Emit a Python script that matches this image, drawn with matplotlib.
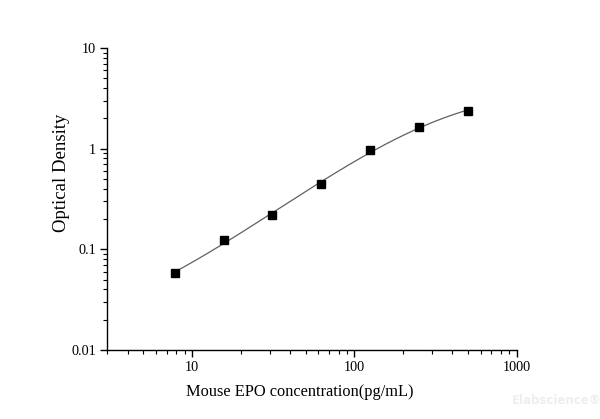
import numpy as np
import matplotlib
matplotlib.use("Agg")
import matplotlib.pyplot as plt
from matplotlib.ticker import LogLocator, FixedLocator, FixedFormatter, NullFormatter

plt.rcParams['font.family'] = ['Liberation Serif', 'DejaVu Serif']

conc = [7.8125, 15.625, 31.25, 62.5, 125, 250, 500]
od = [0.058, 0.124, 0.220, 0.445, 0.965, 1.63, 2.39]
x_ticks = [10, 100, 1000]
x_tick_labels = ["10", "100", "1000"]
y_ticks = [0.01, 0.1, 1, 10]
y_tick_labels = ["0.01", "0.1", "1", "10"]

# four-parameter logistic fit of the data (simple LM in numpy)
x = np.array(conc, dtype=float)
y = np.array(od, dtype=float)

def f4(p, xx):
    A, B, C, D = p
    return D + (A - D) / (1.0 + (xx / C) ** B)

p = np.array([0.02, 1.1, 150.0, 3.5])
lam = 1e-3
def resid(p):
    return (np.log(f4(p, x)) - np.log(y))
for _ in range(500):
    r = resid(p)
    J = np.zeros((len(x), 4))
    for k in range(4):
        dp = np.zeros(4); dp[k] = 1e-6 * max(abs(p[k]), 1e-3)
        J[:, k] = (resid(p + dp) - r) / dp[k]
    H = J.T @ J
    g = J.T @ r
    step = np.linalg.solve(H + lam * np.diag(np.diag(H) + 1e-12), -g)
    pn = p + step
    ok = pn[2] > 0 and pn[3] > 0 and np.all(f4(pn, x) > 0)
    if ok and np.sum(resid(pn) ** 2) < np.sum(r ** 2):
        p = pn; lam *= 0.5
    else:
        lam *= 5
        if lam > 1e8:
            break

xc = np.logspace(np.log10(conc[0]), np.log10(conc[-1]), 300)
yc = f4(p, xc)

fig = plt.figure(figsize=(6.0, 4.19), dpi=100)
ax = fig.add_axes([0.179, 0.165, 0.682, 0.720])
ax.set_xscale('log')
ax.set_yscale('log')
ax.plot(xc, yc, color='#606060', lw=0.9, zorder=2)
ax.plot(conc, od, 's', color='black', markersize=5.2, zorder=3)

ax.set_xlim(3, 1000)
ax.set_ylim(0.01, 10)
ax.spines['top'].set_visible(False)
ax.spines['right'].set_visible(False)
ax.xaxis.set_major_locator(FixedLocator(x_ticks))
ax.xaxis.set_major_formatter(FixedFormatter(x_tick_labels))
ax.yaxis.set_major_locator(FixedLocator(y_ticks))
ax.yaxis.set_major_formatter(FixedFormatter(y_tick_labels))
ax.xaxis.set_minor_locator(LogLocator(base=10, subs=np.arange(2, 10), numticks=20))
ax.yaxis.set_minor_locator(LogLocator(base=10, subs=np.arange(2, 10), numticks=20))
ax.xaxis.set_minor_formatter(NullFormatter())
ax.yaxis.set_minor_formatter(NullFormatter())
ax.tick_params(which='major', direction='out', length=5, width=1, labelsize=10.3, pad=3)
ax.tick_params(which='minor', direction='out', length=3, width=0.8)
for s in ['left', 'bottom']:
    ax.spines[s].set_linewidth(1.0)

ax.set_xlabel('Mouse EPO concentration(pg/mL)', fontsize=11.8)
ax.set_ylabel('Optical Density', fontsize=13.5)
ax.xaxis.label.set_va('center')
ax.yaxis.label.set_va('center')
ax.xaxis.set_label_coords(0.471, -0.139)
ax.yaxis.set_label_coords(-0.111, 0.588)

fig.text(0.853, 0.029, 'Elabscience\u00ae', ha='left', va='bottom', fontsize=8.5,
         fontweight='bold', color='#eeeeee', family=['DejaVu Sans'])

fig.savefig('out.png', dpi=100)
